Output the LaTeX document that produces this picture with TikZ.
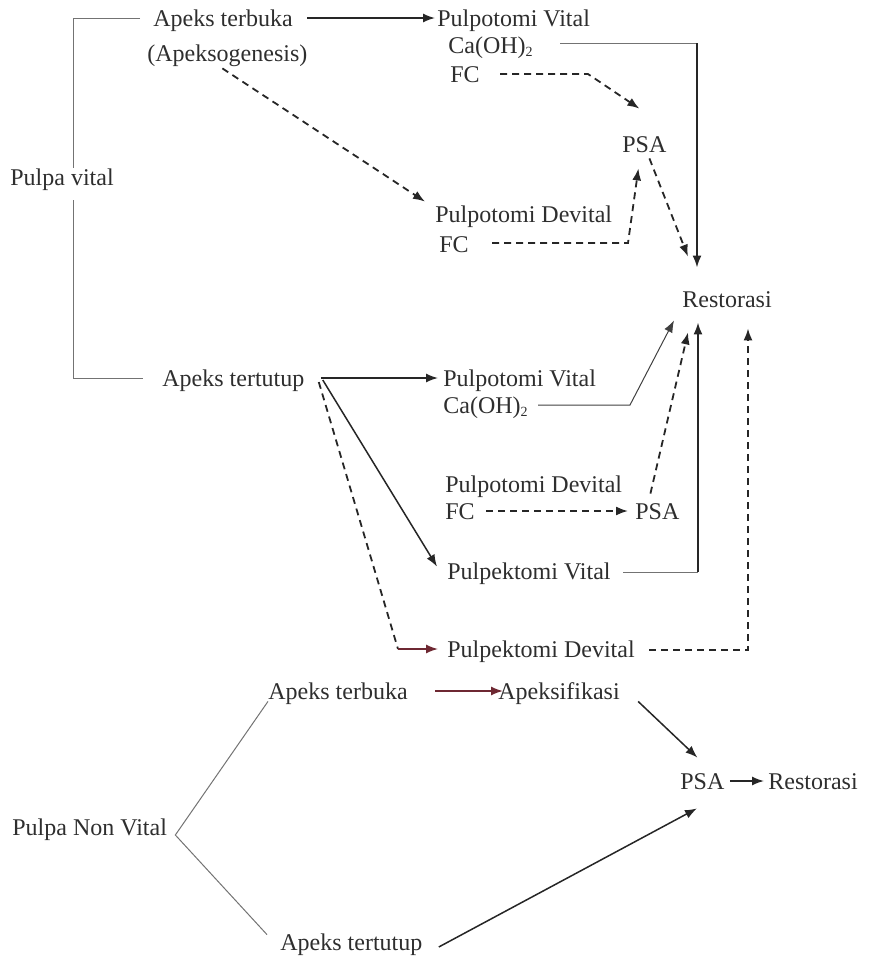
\documentclass[tikz,border=0pt]{standalone}
\usepackage{fontspec}
\setmainfont{Liberation Serif}
\usetikzlibrary{arrows.meta,calc}
\definecolor{maroon}{RGB}{110,40,50}
\begin{document}
\begin{tikzpicture}[x=0.5pt,y=-0.5pt,
 lbl/.style={anchor=west,inner sep=0pt,text height=8.5pt,text depth=0.5pt,font=\fontsize{12}{14}\selectfont,text=black!82},
 thinln/.style={draw=black!55,line width=0.5pt},
 thinarr/.style={thinln,-{Latex[length=6pt,width=4.5pt]},draw=black!75},
 arr/.style={draw=black!85,line width=0.75pt,-{Latex[length=6pt,width=4.5pt]}},
 dsh/.style={draw=black!85,line width=0.9pt,dash pattern=on 3.5pt off 2.5pt},
 darr/.style={dsh,-{Latex[length=6pt,width=4.5pt]}},
 ]
\useasboundingbox (0,0) rectangle (872,965);
% nodes
\node[lbl] (at1) at (153,18) {Apeks terbuka};
\node[lbl] (ag) at (147,53) {(Apeksogenesis)};
\node[lbl] (pv1) at (437,18) {Pulpotomi Vital};
\node[lbl] (ca1) at (448,45) {Ca(OH){\fontsize{7}{8}\selectfont\raisebox{-1.5pt}{2}}};
\node[lbl] (fc1) at (450,74) {FC};
\node[lbl] (psa1) at (622,144) {PSA};
\node[lbl] (pvit) at (10,177) {Pulpa vital};
\node[lbl] (pd1) at (435,214) {Pulpotomi Devital};
\node[lbl] (fc2) at (439,244) {FC};
\node[lbl] (res1) at (682,299) {Restorasi};
\node[lbl] (att) at (162,378) {Apeks tertutup};
\node[lbl] (pv2) at (443,378) {Pulpotomi Vital};
\node[lbl] (ca2) at (443,405) {Ca(OH){\fontsize{7}{8}\selectfont\raisebox{-1.5pt}{2}}};
\node[lbl] (pd2) at (445,484) {Pulpotomi Devital};
\node[lbl] (fc3) at (445,511) {FC};
\node[lbl] (psa2) at (635,511) {PSA};
\node[lbl] (pek) at (447,571) {Pulpektomi Vital};
\node[lbl] (ped) at (447,649) {Pulpektomi Devital};
\node[lbl] (at2) at (268,691) {Apeks terbuka};
\node[lbl] (apx) at (498,691) {Apeksifikasi};
\node[lbl] (psa3) at (680,781) {PSA};
\node[lbl] (res2) at (768,781) {Restorasi};
\node[lbl] (pnv) at (12,827) {Pulpa Non Vital};
\node[lbl] (att2) at (280,942) {Apeks tertutup};
% helper coordinates
\coordinate (bx) at (73,0);
\coordinate (v1) at (697,43);
\coordinate (c1) at (588,74);
\coordinate (c2) at (628,243);
\coordinate (cd) at (398,0);
\coordinate (c3) at (630,405);
\coordinate (v2) at (698,572);
\coordinate (v3) at (748,0);
\coordinate (pn) at ($(pnv.east)+(8,8)$);
% bracket
\draw[thinln] ($(at1.west)+(-13,0)$) -| (pvit.north -| bx);
\draw[thinln] ($(pvit.south -| bx)+(0,14)$) |- ($(att.west)+(-19,0)$);
% upper part
\draw[arr] ($(at1.east)+(14,0)$) -- ($(pv1.west)+(-2,0)$);
\draw[darr] ($(ag.south)+(-5,6)$) -- ($(pd1.north west)+(-10,-3)$);
\draw[thinln] ($(ca1.east)+(27,-2)$) -- (v1);
\draw[arr,line width=1pt] (v1) -- ($(res1.north -| v1)+(0,-22)$);
\draw[darr] ($(fc1.east)+(20,0)$) -- (c1) -- ($(psa1.north)+(-5,-26)$);
\draw[darr] ($(psa1.south)+(5,5)$) -- ($(res1.north west)+(6,-33)$);
\draw[darr] ($(fc2.east)+(23,-1)$) -- (c2) -- ($(psa1.south)+(-6,15)$);
% apeks tertutup
\draw[arr] ($(att.east)+(16,0)$) -- ($(pv2.west)+(-5,0)$);
\draw[arr] ($(att.east)+(18,2)$) -- ($(pek.north west)+(-10,5)$);
\draw[dsh] ($(att.east)+(14,4)$) -- (ped.west -| cd);
\draw[arr,draw=maroon] (ped.west -| cd) -- ($(ped.west)+(-9,0)$);
\draw[thinarr] ($(ca2.east)+(10,0)$) -- (c3) -- ($(res1.south west)+(-8,12)$);
\draw[darr] ($(psa2.north)+(-7,-8)$) -- ($(res1.south west)+(6,24)$);
\draw[darr] ($(fc3.east)+(11,0)$) -- ($(psa2.west)+(-7,0)$);
\draw[thinln] ($(pek.east)+(12,1)$) -- (v2);
\draw[arr,line width=1pt] (v2) -- ($(res1.south -| v2)+(0,14)$);
\draw[darr] ($(ped.east)+(14,1)$) -| ($(res1.south -| v3)+(0,20)$);
% non vital
\draw[thinln] ($(at2.south west)+(0,1)$) -- (pn) -- ($(att2.north west)+(-13,2)$);
\draw[arr,draw=maroon] ($(at2.east)+(27,0)$) -- ($(apx.west)+(5,0)$);
\draw[arr] ($(apx.south east)+(18,1)$) -- ($(psa3.north)+(-5,-14)$);
\draw[arr] ($(att2.east)+(16,5)$) -- ($(psa3.south west)+(17,18)$);
\draw[arr] ($(psa3.east)+(5,0)$) -- ($(res2.west)+(-4,0)$);
\end{tikzpicture}
\end{document}
